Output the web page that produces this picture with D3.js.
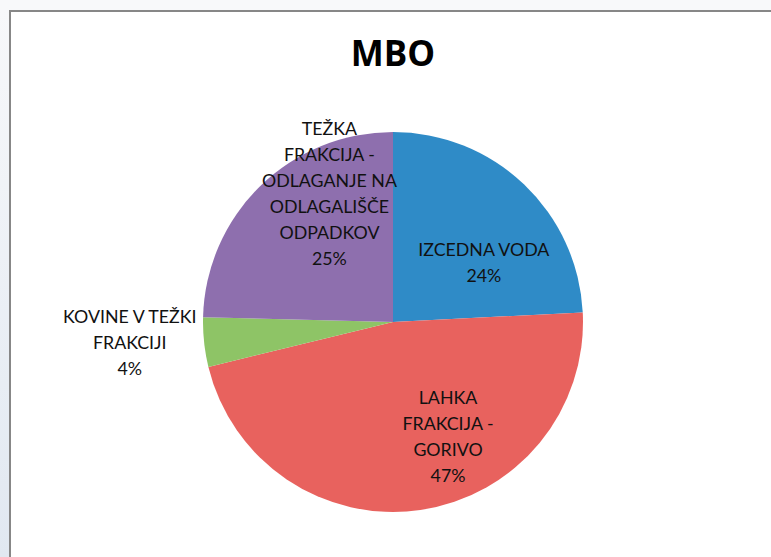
<!DOCTYPE html>
<html>
<head>
<meta charset="utf-8">
<script src="https://cdn.jsdelivr.net/npm/d3@7"></script>
<style>
  body { margin: 0; background: #f8f9fa; }
  #chart { position: absolute; left: 0; top: 0; }
</style>
</head>
<body>
<div id="chart"></div>
<script>
// slice data (clockwise from 12 o'clock)
var categories = ["IZCEDNA VODA", "LAHKA FRAKCIJA - GORIVO", "KOVINE V TEŽKI FRAKCIJI", "TEŽKA FRAKCIJA - ODLAGANJE NA ODLAGALIŠČE ODPADKOV"]
var values = [24.2, 47.0, 4.2, 24.6]
var percentLabels = ["24%", "47%", "4%", "25%"]
var labelLines = [
  ["IZCEDNA VODA"],
  ["LAHKA", "FRAKCIJA -", "GORIVO"],
  ["KOVINE V TEŽKI", "FRAKCIJI"],
  ["TEŽKA", "FRAKCIJA -", "ODLAGANJE NA", "ODLAGALIŠČE", "ODPADKOV"]
]
var colors = ["#2f8bc7", "#e8625e", "#8ec466", "#8e6fae"]

var width = 771
height = 557

var cx = 393, cy = 322
var radius = 190

// where excel put the labels: angle (deg, clockwise from top) and distance as fraction of radius
var labelPlacement = [
  { angle: 57, dist: 0.57 },
  { angle: 154.4, dist: 0.67 },
  { angle: 265.4, dist: 1.39 },
  { angle: 333.5, dist: 0.75 }
]

var svg = d3.select("#chart")
  .append("svg")
  .attr("width", width)
  .attr("height", height)

// light frame of the window around the chart
var sideFill = svg.append("defs").append("linearGradient")
  .attr("id", "side").attr("x1", 0).attr("y1", 0).attr("x2", 0).attr("y2", 1)
sideFill.append("stop").attr("offset", "0%").attr("stop-color", "#f7f8fa")
sideFill.append("stop").attr("offset", "100%").attr("stop-color", "#e1e8f1")

svg.append("rect").attr("x", 0).attr("y", 0).attr("width", width).attr("height", 10).attr("fill", "#f8f9fa")
svg.append("rect").attr("x", 0).attr("y", 10).attr("width", 9).attr("height", height - 10).attr("fill", "url(#side)")
svg.append("rect").attr("x", 11).attr("y", 12).attr("width", width - 11).attr("height", height - 12).attr("fill", "#ffffff")
svg.append("path")
  .attr("d", "M10," + height + "V11H" + width)
  .attr("fill", "none")
  .attr("stroke", "#878787")
  .attr("stroke-width", 2)

svg.append("text")
  .text("MBO")
  .attr("x", cx)
  .attr("y", 66)
  .style("text-anchor", "middle")
  .style("font-family", "'Open Sans', 'Liberation Sans', sans-serif")
  .style("font-weight", "bold")
  .style("font-size", "35px")
  .attr("fill", "#000")

var pie = d3.pie()
  .value(function (d) { return d })
  .sort(null)
var parsed = pie(values)

var pieArc = d3.arc()
  .innerRadius(0)
  .outerRadius(radius)

var pieChart = svg.append("g")
  .attr("transform", "translate(" + cx + "," + cy + ")")

pieChart.selectAll("path")
  .data(parsed)
  .enter()
  .append("path")
  .attr("d", pieArc)
  .attr("fill", function (d, i) { return colors[i] })

var lineHeight = 26

var labels = pieChart.selectAll("text.lbl")
  .data(parsed)
  .enter()
  .append("text")
  .attr("class", "lbl")
  .attr("transform", function (d, i) {
    var p = labelPlacement[i]
    var a = p.angle * Math.PI / 180
    var x = Math.sin(a) * radius * p.dist
    var y = -Math.cos(a) * radius * p.dist
    var n = labelLines[i].length + 1
    return "translate(" + x + "," + (y - (n - 1) * lineHeight / 2 + 6) + ")"
  })
  .style("text-anchor", "middle")
  .style("font-family", "Lato, 'Open Sans', sans-serif")
  .style("font-size", "17.8px")
  .attr("fill", "#111")

labels.each(function (d, i) {
  var t = d3.select(this)
  labelLines[i].concat([percentLabels[i]]).forEach(function (line, k) {
    t.append("tspan").attr("x", 0).attr("y", k * lineHeight).text(line)
  })
})
</script>
</body>
</html>
